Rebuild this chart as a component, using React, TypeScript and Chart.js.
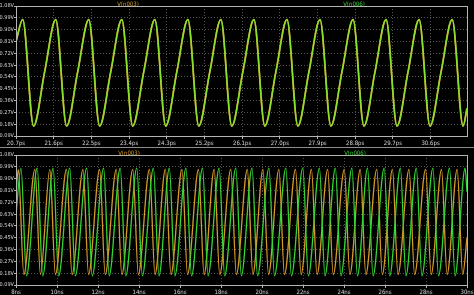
import React, { useEffect, useRef } from "react";
import { Chart, registerables } from "chart.js";
Chart.register(...registerables);

// ---- axis ticks ----
const VOLT_TICKS = [0.09, 0.18, 0.27, 0.36, 0.45, 0.54, 0.63, 0.72, 0.81, 0.9, 0.99, 1.08];
const TOP_TIME_TICKS = [20.7, 21.6, 22.5, 23.4, 24.3, 25.2, 26.1, 27.0, 27.9, 28.8, 29.7, 30.6];
const BOTTOM_TIME_TICKS = [8, 10, 12, 14, 16, 18, 20, 22, 24, 26, 28, 30];
const TOP_RANGE = [20.7, 31.47];
const BOTTOM_RANGE = [8, 30];
const SERIES_NAMES = ["V(n003)", "V(n006)"];

// ---- top pane (ps) : both nodes overlap ----
const topT = [20.7, 20.86, 21.12, 21.385, 21.649, 21.909, 22.174, 22.438, 22.698, 22.963, 23.227, 23.487, 23.752,
  24.016, 24.276, 24.541, 24.805, 25.065, 25.329, 25.593, 25.853, 26.118, 26.382, 26.642, 26.907, 27.171, 27.431,
  27.696, 27.96, 28.22, 28.485, 28.749, 29.009, 29.274, 29.538, 29.798, 30.063, 30.327, 30.587, 30.852, 31.116,
  31.376, 31.47];
const topN006V = [0.81, 0.977, 0.165, 0.58, 0.977, 0.165, 0.58, 0.977, 0.165, 0.58, 0.977, 0.165, 0.58,
  0.977, 0.165, 0.58, 0.977, 0.165, 0.58, 0.977, 0.165, 0.58, 0.977, 0.165, 0.58, 0.977, 0.165,
  0.58, 0.977, 0.165, 0.58, 0.977, 0.165, 0.58, 0.977, 0.165, 0.58, 0.977, 0.165, 0.58, 0.977,
  0.165, 0.3];
const topN003V = [0.81, 0.976, 0.166, 0.58, 0.976, 0.166, 0.58, 0.976, 0.166, 0.58, 0.976, 0.166, 0.58,
  0.976, 0.166, 0.58, 0.976, 0.166, 0.58, 0.976, 0.166, 0.58, 0.976, 0.166, 0.58, 0.976, 0.166,
  0.58, 0.976, 0.166, 0.58, 0.976, 0.166, 0.58, 0.976, 0.166, 0.58, 0.976, 0.166, 0.58, 0.976,
  0.166, 0.3];

// ---- bottom pane (ns) ----
const botN006T = [8.0, 8.243, 8.513, 9.035, 9.305, 9.812, 10.082, 10.623, 10.893, 11.449, 11.719, 12.275, 12.545,
  13.086, 13.356, 13.893, 14.163, 14.704, 14.974, 15.481, 15.751, 16.293, 16.563, 17.099, 17.369, 17.91, 18.18,
  18.722, 18.992, 19.513, 19.783, 20.339, 20.609, 21.165, 21.435, 21.991, 22.261, 22.802, 23.072, 23.579, 23.849,
  24.386, 24.656, 25.148, 25.418, 25.96, 26.23, 26.751, 27.021, 27.529, 27.799, 28.34, 28.61, 29.147, 29.417,
  29.909, 30.0];
const botN006V = [0.63, 0.98, 0.16, 0.98, 0.16, 0.98, 0.16, 0.98, 0.16, 0.98, 0.16, 0.98, 0.16,
  0.98, 0.16, 0.98, 0.16, 0.98, 0.16, 0.98, 0.16, 0.98, 0.16, 0.98, 0.16, 0.98, 0.16,
  0.98, 0.16, 0.98, 0.16, 0.98, 0.16, 0.98, 0.16, 0.98, 0.16, 0.98, 0.16, 0.98, 0.16,
  0.98, 0.16, 0.98, 0.16, 0.98, 0.16, 0.98, 0.16, 0.98, 0.16, 0.98, 0.16, 0.98, 0.16,
  0.98, 0.8];
const botN003T = [8.0, 8.112, 8.382, 8.923, 9.193, 9.652, 9.922, 10.463, 10.733, 11.269, 11.539, 12.081, 12.351,
  12.892, 13.162, 13.698, 13.968, 14.51, 14.78, 15.287, 15.557, 16.098, 16.368, 16.904, 17.174, 17.667, 17.937,
  18.479, 18.749, 19.285, 19.555, 20.048, 20.318, 20.825, 21.095, 21.636, 21.906, 22.413, 22.683, 23.205, 23.475,
  24.016, 24.286, 24.794, 25.064, 25.6, 25.87, 26.363, 26.633, 27.174, 27.444, 27.981, 28.251, 28.758, 29.028,
  29.521, 29.791, 30.0];
const botN003V = [0.78, 0.97, 0.17, 0.97, 0.17, 0.97, 0.17, 0.97, 0.17, 0.97, 0.17, 0.97, 0.17,
  0.97, 0.17, 0.97, 0.17, 0.97, 0.17, 0.97, 0.17, 0.97, 0.17, 0.97, 0.17, 0.97, 0.17,
  0.97, 0.17, 0.97, 0.17, 0.97, 0.17, 0.97, 0.17, 0.97, 0.17, 0.97, 0.17, 0.97, 0.17,
  0.97, 0.17, 0.97, 0.17, 0.97, 0.17, 0.97, 0.17, 0.97, 0.17, 0.97, 0.17, 0.97, 0.17,
  0.97, 0.17, 0.45];

const GREEN = "#33d633";
const ORANGE = "#d69a2a";
const TOP_GREEN = "#86e42c";
const LABEL_COLOR = "#d8d8d8";
const FONT = "'Liberation Sans Narrow', 'DejaVu Sans Condensed', 'Liberation Sans', Arial, sans-serif";

const pts = (t: number[], v: number[]) => t.map((x, i) => ({ x, y: v[i] }));

const framePlugin = {
  id: "frame",
  afterDraw(chart: any) {
    const { ctx, chartArea: a } = chart;
    ctx.save();
    ctx.strokeStyle = "#b4b4b4";
    ctx.lineWidth = 1;
    ctx.strokeRect(Math.round(a.left) + 0.5, Math.round(a.top) + 0.5, Math.round(a.right - a.left), Math.round(a.bottom - a.top));
    ctx.restore();
  },
};

type PanelProps = {
  top: number;
  height: number;
  padTop: number;
  xAxisH: number;
  range: number[];
  xTicks: number[];
  fmt: (v: number) => string;
  datasets: any[];
};

function Panel({ top, height, padTop, xAxisH, range, xTicks, fmt, datasets }: PanelProps) {
  const ref = useRef<HTMLCanvasElement>(null);
  useEffect(() => {
    if (!ref.current) return;
    const chart = new Chart(ref.current, {
      type: "line",
      data: { datasets },
      options: {
        animation: false,
        responsive: false,
        devicePixelRatio: 1,
        events: [],
        layout: { padding: { top: padTop, right: 7, left: 0, bottom: 0 } },
        plugins: { legend: { display: false }, tooltip: { enabled: false } },
        elements: { point: { radius: 0 }, line: { cubicInterpolationMode: "monotone" } },
        scales: {
          x: {
            type: "linear",
            min: range[0],
            max: range[1],
            afterBuildTicks: (s: any) => {
              s.ticks = xTicks.map((value) => ({ value }));
            },
            afterFit: (s: any) => {
              s.height = xAxisH;
              s.paddingLeft = 0;
              s.paddingRight = 0;
            },
            grid: { color: "#525252", tickColor: "#b4b4b4", tickLength: 3, lineWidth: 1 },
            border: { display: false, dash: [1, 2] },
            ticks: {
              color: LABEL_COLOR,
              font: { size: 6, family: FONT },
              padding: 1,
              autoSkip: false,
              maxRotation: 0,
              callback: (v: any) => fmt(Number(v)),
            },
          },
          y: {
            type: "linear",
            min: 0.09,
            max: 1.08,
            afterBuildTicks: (s: any) => {
              s.ticks = VOLT_TICKS.map((value) => ({ value }));
            },
            afterFit: (s: any) => {
              s.width = 16;
              s.paddingTop = 0;
              s.paddingBottom = 0;
            },
            grid: { color: "#525252", tickColor: "#b4b4b4", tickLength: 2, lineWidth: 1 },
            border: { display: false, dash: [1, 2] },
            ticks: {
              color: LABEL_COLOR,
              font: { size: 5.5, family: FONT },
              padding: 0,
              autoSkip: false,
              callback: (v: any) => Number(v).toFixed(2) + "V",
            },
          },
        },
      },
      plugins: [framePlugin],
    } as any);
    return () => chart.destroy();
  }, []);
  return (
    <canvas
      ref={ref}
      width={474}
      height={height}
      style={{ position: "absolute", left: 0, top, width: 474, height, display: "block" }}
    />
  );
}

const legendStyle = (x: number, y: number, color: string): React.CSSProperties => ({
  position: "absolute",
  left: x,
  top: y,
  transform: "translate(-50%, -50%)",
  color,
  fontFamily: FONT,
  fontSize: 6,
  lineHeight: "7px",
  whiteSpace: "nowrap",
});

export default function App() {
  const topSets = [
    { label: SERIES_NAMES[1], data: pts(topT, topN006V), borderColor: TOP_GREEN, borderWidth: 1.4 },
    { label: SERIES_NAMES[0], data: pts(topT, topN003V), borderColor: ORANGE, borderWidth: 1.8 },
  ];
  const botSets = [
    { label: SERIES_NAMES[1], data: pts(botN006T, botN006V), borderColor: GREEN, borderWidth: 1.3 },
    { label: SERIES_NAMES[0], data: pts(botN003T, botN003V), borderColor: ORANGE, borderWidth: 1.3 },
  ];
  return (
    <div style={{ position: "fixed", left: 0, top: 0, width: 474, height: 295, background: "#000", overflow: "hidden" }}>
      <Panel top={0} height={147} padTop={6} xAxisH={11} range={TOP_RANGE} xTicks={TOP_TIME_TICKS}
        fmt={(v) => v.toFixed(1) + "ps"} datasets={topSets} />
      <div style={{ position: "absolute", left: 0, top: 147, width: 474, height: 1, background: "#8c8c8c" }} />
      <Panel top={148} height={147} padTop={7} xAxisH={10} range={BOTTOM_RANGE} xTicks={BOTTOM_TIME_TICKS}
        fmt={(v) => v + "ns"} datasets={botSets} />
      <div style={legendStyle(128, 3, ORANGE)}>{SERIES_NAMES[0]}</div>
      <div style={legendStyle(354, 3, GREEN)}>{SERIES_NAMES[1]}</div>
      <div style={legendStyle(129, 152, ORANGE)}>{SERIES_NAMES[0]}</div>
      <div style={legendStyle(355, 152, GREEN)}>{SERIES_NAMES[1]}</div>
    </div>
  );
}
